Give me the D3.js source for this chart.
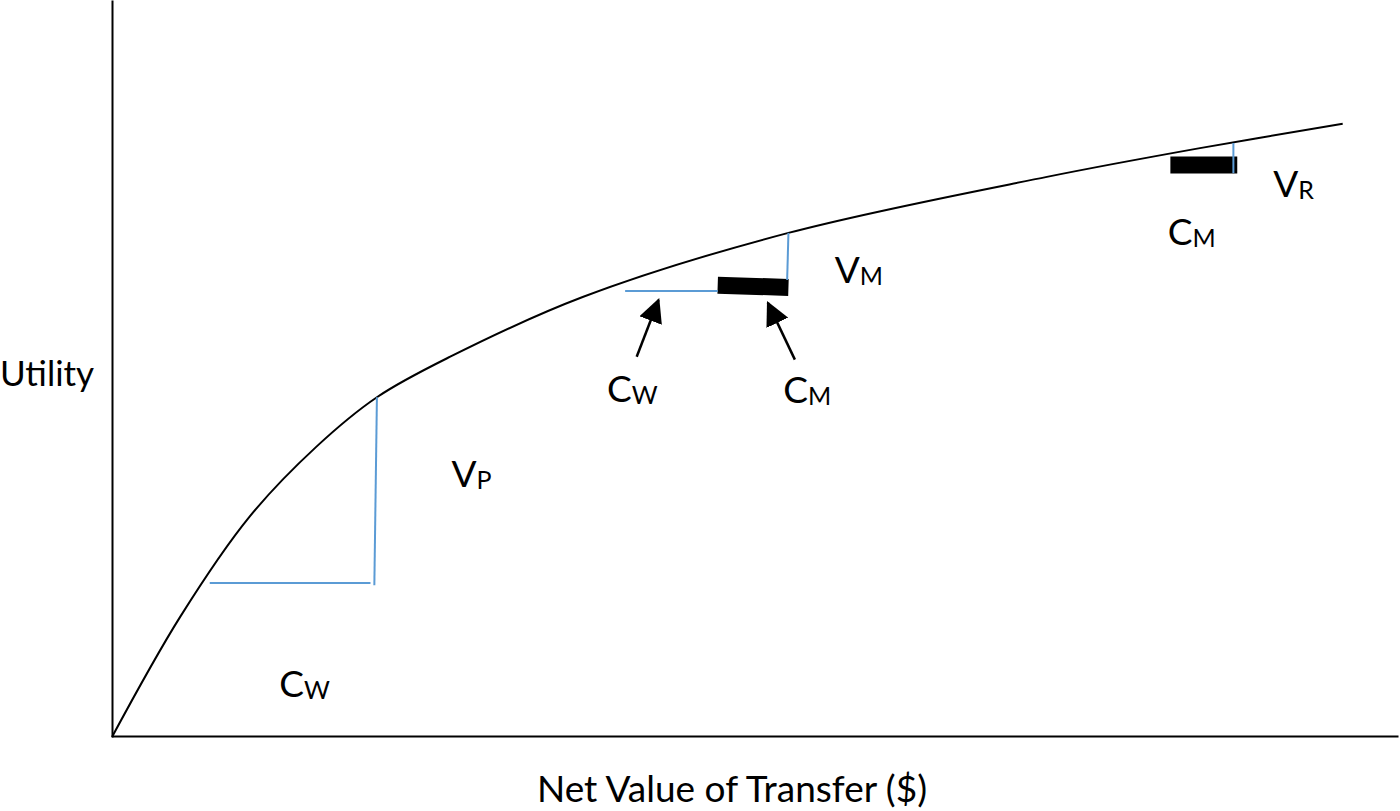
<!DOCTYPE html>
<html>
<head>
<meta charset="utf-8">
<script src="https://cdnjs.cloudflare.com/ajax/libs/d3/7.8.5/d3.min.js"></script>
<style>
	body { margin: 0; background: #fff; }
	text { font-family: Lato, "Open Sans", sans-serif; fill: #000; }
</style>
</head>
<body>
<div id="svg"></div>
<script>
///////////////////////////////////////////////////////////////////////////////
//// Data /////////////////////////////////////////////////////////////////////
///////////////////////////////////////////////////////////////////////////////
// utility curve (net value, utility), both on a 0-100 scale
const curveX = [0, 5.3, 10.7, 15.9, 20.6, 26.3, 36.6, 52.6, 72.7, 84.6, 95.7];
const curveY = [0, 16.3, 29.9, 39.4, 46.1, 51.6, 59.7, 68.4, 76.0, 79.9, 83.2];

// blue guide segments [x1, y1, x2, y2]
const guides = [
	[7.6, 20.9, 20.1, 20.9],   // C_W (poor)
	[20.6, 46.1, 20.4, 20.6],  // V_P
	[39.9, 60.5, 47.1, 60.5],  // C_W (middle)
	[52.6, 68.4, 52.5, 62.0],  // V_M
	[87.2, 80.6, 87.2, 76.5]   // V_R
];

// black cost bars [x1, y1, x2, y2]
const bars = [
	[47.1, 61.3, 52.6, 61.0],  // C_M (middle)
	[82.3, 77.6, 87.5, 77.6]   // C_M (rich)
];

// arrows [fromX, fromY, toX, toY]
const arrows = [
	[40.8, 51.6, 42.5, 59.3],
	[53.1, 51.2, 51.0, 58.9]
];

// labels: letter, subscript, x, y (baseline)
const labelMain = ["C", "V", "C", "C", "V", "V", "C"];
const labelSub  = ["W", "P", "W", "M", "M", "R", "M"];
const labelX    = [13.0, 26.4, 38.5, 52.2, 56.2, 90.3, 82.1];
const labelY    = [5.4, 33.9, 45.5, 45.3, 61.6, 73.3, 66.8];

const xTitle = "Net Value of Transfer ($)";
const yTitle = "Utility";

///////////////////////////////////////////////////////////////////////////////
//// Initial Set Up ///////////////////////////////////////////////////////////
///////////////////////////////////////////////////////////////////////////////
const margin = {top: 0, right: 2, bottom: 74, left: 112},
			width = 1400 - margin.left - margin.right,
			height = 811 - margin.top - margin.bottom;

const blue = "#5b9bd5";

const x = d3.scaleLinear()
		.domain([0, 100])
		.range([0, width]);

const y = d3.scaleLinear()
		.domain([0, 100])
		.range([height, 0]);

const svg = d3.select("#svg")
	.append("svg")
		.attr("width", width + margin.left + margin.right)
		.attr("height", height + margin.top + margin.bottom);

svg.append("defs")
	.append("marker")
		.attr("id", "head")
		.attr("markerUnits", "userSpaceOnUse")
		.attr("viewBox", "0 0 24 24")
		.attr("refX", 22)
		.attr("refY", 12)
		.attr("markerWidth", 24)
		.attr("markerHeight", 24)
		.attr("orient", "auto")
	.append("path")
		.attr("d", "M0,0 L24,12 L0,24 Z")
		.attr("fill", "#000");

const g = svg.append("g")
	.attr("transform", `translate(${margin.left}, ${margin.top})`);

///////////////////////////////////////////////////////////////////////////////
//// Axes /////////////////////////////////////////////////////////////////////
///////////////////////////////////////////////////////////////////////////////
g.append("g")
		.attr("class", "x axis")
		.attr("transform", `translate(0, ${height - 1})`)
		.call(d3.axisBottom(x).tickValues([]).tickSizeOuter(0))
		.select(".domain")
			.attr("stroke-width", 2);

g.append("g")
		.attr("class", "y axis")
		.call(d3.axisLeft(y).tickValues([]).tickSizeOuter(0))
		.select(".domain")
			.attr("stroke-width", 2);

svg.append("text")
		.attr("x", 537)
		.attr("y", 802)
		.attr("font-size", 37)
		.text(xTitle);

svg.append("text")
		.attr("x", 0)
		.attr("y", 386)
		.attr("font-size", 35)
		.text(yTitle);

///////////////////////////////////////////////////////////////////////////////
//// Curve ////////////////////////////////////////////////////////////////////
///////////////////////////////////////////////////////////////////////////////
const line = d3.line()
		.x(i => x(curveX[i]))
		.y(i => y(curveY[i]))
		.curve(d3.curveCatmullRom.alpha(0.5));

g.append("path")
		.attr("d", line(d3.range(curveX.length)))
		.attr("fill", "none")
		.attr("stroke", "#000")
		.attr("stroke-width", 2);

///////////////////////////////////////////////////////////////////////////////
//// Bars, guides and arrows //////////////////////////////////////////////////
///////////////////////////////////////////////////////////////////////////////
g.selectAll(".bar")
	.data(bars)
	.enter()
	.append("line")
		.attr("class", "bar")
		.attr("x1", d => x(d[0]))
		.attr("y1", d => y(d[1]))
		.attr("x2", d => x(d[2]))
		.attr("y2", d => y(d[3]))
		.attr("stroke", "#000")
		.attr("stroke-width", 17);

g.selectAll(".guide")
	.data(guides)
	.enter()
	.append("line")
		.attr("class", "guide")
		.attr("x1", d => x(d[0]))
		.attr("y1", d => y(d[1]))
		.attr("x2", d => x(d[2]))
		.attr("y2", d => y(d[3]))
		.attr("stroke", blue)
		.attr("stroke-width", 2);

g.selectAll(".arrow")
	.data(arrows)
	.enter()
	.append("line")
		.attr("class", "arrow")
		.attr("x1", d => x(d[0]))
		.attr("y1", d => y(d[1]))
		.attr("x2", d => x(d[2]))
		.attr("y2", d => y(d[3]))
		.attr("stroke", "#000")
		.attr("stroke-width", 2.5)
		.attr("marker-end", "url(#head)");

///////////////////////////////////////////////////////////////////////////////
//// Labels ///////////////////////////////////////////////////////////////////
///////////////////////////////////////////////////////////////////////////////
const labels = g.selectAll(".label")
	.data(d3.range(labelMain.length))
	.enter()
	.append("text")
		.attr("class", "label")
		.attr("x", i => x(labelX[i]))
		.attr("y", i => y(labelY[i]))
		.attr("font-size", 37);

labels.append("tspan")
		.text(i => labelMain[i]);

labels.append("tspan")
		.attr("font-size", 25)
		.attr("dy", 2)
		.text(i => labelSub[i]);
</script>
</body>
</html>
